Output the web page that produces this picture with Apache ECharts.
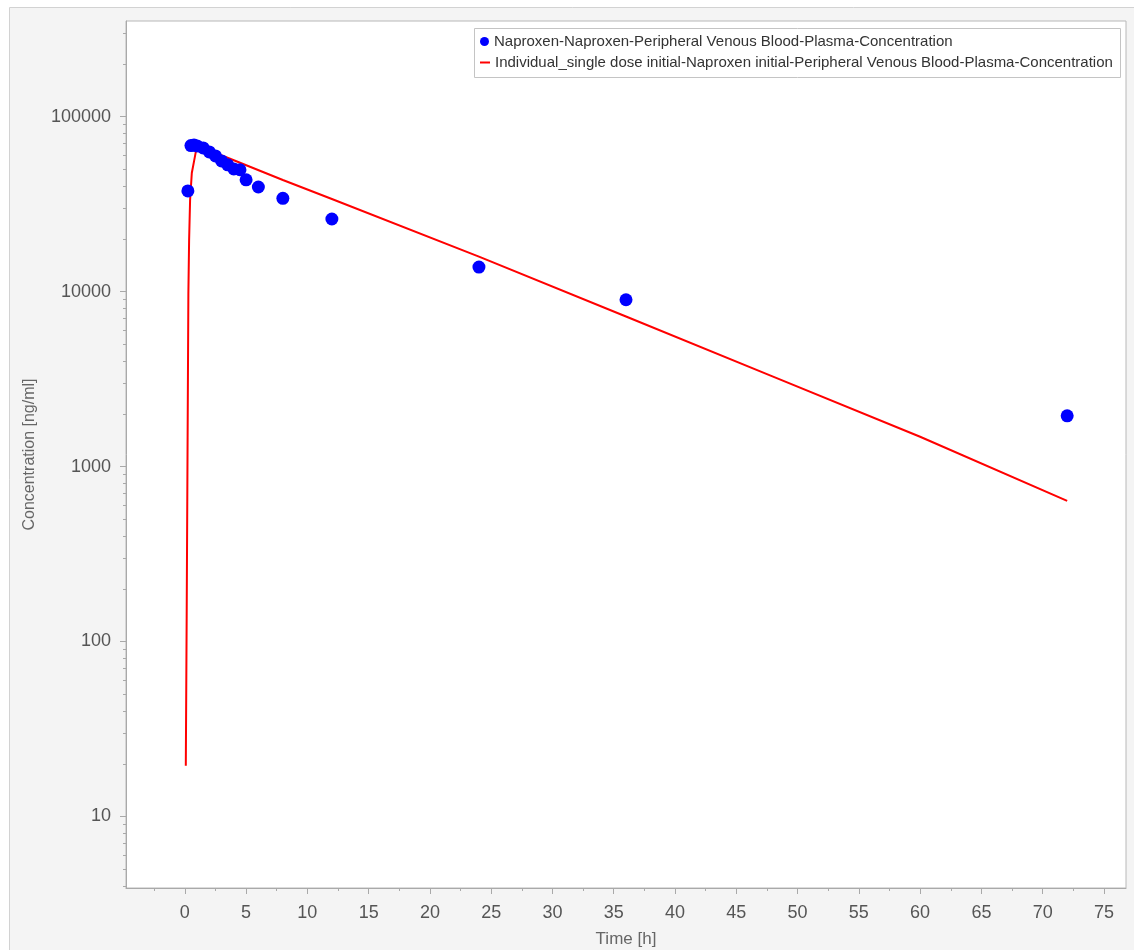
<!DOCTYPE html>
<html>
<head>
<meta charset="utf-8">
<title>Naproxen plasma concentration</title>
<script src="https://cdn.jsdelivr.net/npm/echarts@6/dist/echarts.min.js"></script>
<style>
  html, body { margin: 0; padding: 0; background: #ffffff; }
  #chart { width: 1134px; height: 950px; }
</style>
</head>
<body>
<div id="chart"></div>
<script>
// Observed plasma concentrations (ng/ml) at sampling times (h)
const obsTime = [0.25, 0.5, 0.75, 1, 1.5, 2, 2.5, 3, 3.5, 4, 4.5, 5, 6, 8, 12, 24, 36, 72];
const obsConc = [37600, 68300, 68800, 68000, 66200, 62800, 59600, 55800, 53000, 50200, 49700, 43500, 39600, 34100, 26000, 13800, 8980, 1950];

// Simulated profile (ng/ml) for the single-dose individual
const simTime = [0.08, 0.15, 0.22, 0.29, 0.35, 0.43, 0.57, 0.75, 0.9, 1.1, 2, 4, 8, 12, 24, 36, 48, 60, 72];
const simConc = [19.5, 135, 1170, 9800, 19700, 33400, 47600, 55500, 63100, 68000, 64100, 56300, 43400, 33800, 15850, 7200, 3265, 1480, 637];

// Axis ticks
const xMajorTicks = [0, 5, 10, 15, 20, 25, 30, 35, 40, 45, 50, 55, 60, 65, 70, 75];
const xMinorTicks = [-2.5, 2.5, 7.5, 12.5, 17.5, 22.5, 27.5, 32.5, 37.5, 42.5, 47.5, 52.5, 57.5, 62.5, 67.5, 72.5];
const yMajorTicks = [10, 100, 1000, 10000, 100000];
const yMinorTicks = [4, 5, 6, 7, 8, 9,
  20, 30, 40, 50, 60, 70, 80, 90,
  200, 300, 400, 500, 600, 700, 800, 900,
  2000, 3000, 4000, 5000, 6000, 7000, 8000, 9000,
  20000, 30000, 40000, 50000, 60000, 70000, 80000, 90000,
  200000, 300000];

const obsName = 'Naproxen-Naproxen-Peripheral Venous Blood-Plasma-Concentration';
const simName = 'Individual_single dose initial-Naproxen initial-Peripheral Venous Blood-Plasma-Concentration';

const X_MIN = -4.8, X_MAX = 76.8;
const Y_MIN = 3.9, Y_MAX = 352000;

const FONT = 'Liberation Sans, Arial, sans-serif';
const axisGrey = '#a9a9a9';
const labelFont = { color: '#555555', fontSize: 18, fontFamily: FONT };
const legendText = { color: '#333333', fontSize: 15, fontFamily: FONT };

const chart = echarts.init(document.getElementById('chart'), null, { renderer: 'canvas' });

chart.setOption({
  backgroundColor: '#ffffff',
  animation: false,
  graphic: [{
    // outer panel
    type: 'rect',
    left: 9, top: 7,
    shape: { width: 1140, height: 960 },
    style: { fill: '#f4f4f4', stroke: '#d2d2d2', lineWidth: 1 },
    silent: true,
    z: -10
  }, {
    // legend frame
    type: 'rect',
    left: 474, top: 28,
    shape: { width: 646, height: 49 },
    style: { fill: '#ffffff', stroke: '#c4c4c4', lineWidth: 1 },
    silent: true,
    z: 5
  }],
  grid: {
    left: 126, top: 21, right: 8, bottom: 62,
    containLabel: false,
    outerBoundsMode: 'none',
    show: true,
    backgroundColor: '#ffffff',
    borderColor: '#b8b8b8',
    borderWidth: 1
  },
  legend: [{
    orient: 'vertical',
    left: 480, top: 34,
    padding: 0,
    itemWidth: 9,
    itemHeight: 9,
    z: 10,
    textStyle: legendText,
    data: [{ name: obsName, icon: 'circle' }]
  }, {
    orient: 'vertical',
    left: 480, top: 55,
    padding: 0,
    itemWidth: 10,
    itemHeight: 2,
    z: 10,
    textStyle: legendText,
    data: [{ name: simName, icon: 'rect' }]
  }],
  xAxis: [{
    type: 'value',
    min: X_MIN, max: X_MAX,
    position: 'bottom',
    name: 'Time [h]',
    nameLocation: 'middle',
    nameGap: 43,
    nameTextStyle: { color: '#666666', fontSize: 17, fontFamily: FONT },
    axisLine: { show: true, onZero: false, lineStyle: { color: axisGrey, width: 1 } },
    axisTick: { show: true, length: 6, customValues: xMajorTicks, lineStyle: { color: axisGrey } },
    axisLabel: Object.assign({ margin: 16, customValues: xMajorTicks, formatter: v => String(v) }, labelFont),
    splitLine: { show: false }
  }, {
    type: 'value',
    min: X_MIN, max: X_MAX,
    position: 'bottom',
    axisLine: { show: false, onZero: false },
    axisTick: { show: true, length: 3, customValues: xMinorTicks, lineStyle: { color: axisGrey } },
    axisLabel: { show: false },
    splitLine: { show: false }
  }],
  yAxis: [{
    type: 'log',
    logBase: 10,
    min: Y_MIN, max: Y_MAX,
    position: 'left',
    name: 'Concentration [ng/ml]',
    nameLocation: 'middle',
    nameGap: 88,
    nameRotate: 90,
    nameTextStyle: { color: '#666666', fontSize: 16, fontFamily: FONT },
    axisLine: { show: true, onZero: false, lineStyle: { color: axisGrey, width: 1 } },
    axisTick: { show: true, length: 6, customValues: yMajorTicks, lineStyle: { color: axisGrey } },
    axisLabel: Object.assign({ margin: 15, customValues: yMajorTicks, formatter: v => String(Math.round(v)) }, labelFont),
    splitLine: { show: false },
    minorTick: { show: false }
  }, {
    type: 'log',
    logBase: 10,
    min: Y_MIN, max: Y_MAX,
    position: 'left',
    axisLine: { show: false, onZero: false },
    axisTick: { show: true, length: 3, customValues: yMinorTicks, lineStyle: { color: axisGrey } },
    axisLabel: { show: false },
    splitLine: { show: false }
  }],
  series: [{
    name: obsName,
    type: 'scatter',
    xAxisIndex: 0, yAxisIndex: 0,
    symbol: 'circle',
    symbolSize: 13,
    itemStyle: { color: '#0000ff', opacity: 1 },
    z: 5,
    data: obsTime.map((t, i) => [t, obsConc[i]])
  }, {
    name: simName,
    type: 'line',
    xAxisIndex: 0, yAxisIndex: 0,
    symbol: 'none',
    lineStyle: { color: '#ff0000', width: 2 },
    itemStyle: { color: '#ff0000' },
    z: 3,
    data: simTime.map((t, i) => [t, simConc[i]])
  }]
});
</script>
</body>
</html>
